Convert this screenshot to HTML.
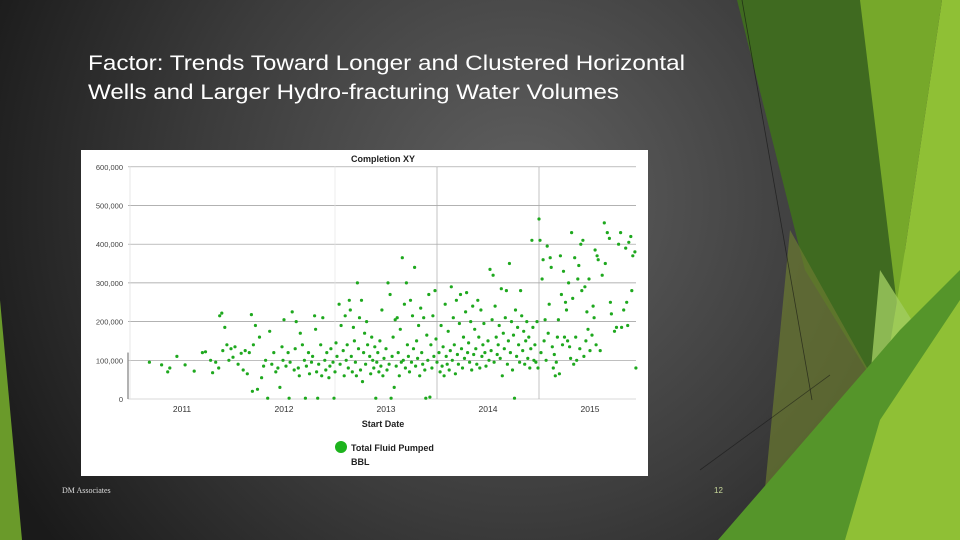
<!DOCTYPE html>
<html><head><meta charset="utf-8"><style>
html,body{margin:0;padding:0;width:960px;height:540px;overflow:hidden;background:#2a2a2a}
svg{display:block}
</style></head><body>
<svg id="slide" width="960" height="540" viewBox="0 0 960 540" xmlns="http://www.w3.org/2000/svg">
<defs>
<radialGradient id="bg" cx="520" cy="200" r="580" gradientUnits="userSpaceOnUse">
<stop offset="0" stop-color="#606060"/><stop offset="0.55" stop-color="#3c3c3c"/><stop offset="1" stop-color="#1a1a1a"/></radialGradient>
</defs>
<rect width="960" height="540" fill="url(#bg)"/>
<g>
<polygon points="737,0 868,0 902,250 885,400 805,270" fill="#3f6a20"/>
<polygon points="790,230 885,400 870,540 760,540" fill="#6b7a30" opacity="0.7"/>
<polygon points="860,0 942,0 905,250 900,330" fill="#76a82a"/>
<polygon points="942,0 960,0 960,540 830,540 878,420 905,250" fill="#8fc035"/>
<polygon points="880,270 918,330 880,420 870,380" fill="#a0cc60" opacity="0.8"/>
<polygon points="718,540 900,330 960,270 960,300 880,420 845,540" fill="#55952a"/>
<line x1="742" y1="0" x2="812" y2="400" stroke="#111" stroke-width="0.8" opacity="0.6"/>
<line x1="700" y1="470" x2="830" y2="375" stroke="#111" stroke-width="0.8" opacity="0.5"/>
</g>
<polygon points="0,300 22,540 0,540" fill="#6a9a2a"/>
<text x="88" y="70" font-family="Liberation Sans, sans-serif" font-size="21" textLength="597" lengthAdjust="spacingAndGlyphs" fill="#fff">Factor: Trends Toward Longer and Clustered Horizontal</text>
<text x="88" y="99" font-family="Liberation Sans, sans-serif" font-size="21" textLength="531" lengthAdjust="spacingAndGlyphs" fill="#fff">Wells and Larger Hydro-fracturing Water Volumes</text>
<text x="62" y="493" font-family="Liberation Serif, serif" font-size="8" fill="#ddd">DM Associates</text>
<text x="714" y="493" font-family="Liberation Sans, sans-serif" font-size="8" fill="#c8d89a">12</text>
<rect x="81" y="150" width="567" height="326" fill="#fff"/>
<text x="383" y="162" text-anchor="middle" font-family="Liberation Sans, sans-serif" font-size="9" font-weight="bold" fill="#222">Completion XY</text>
<g id="grid"></g>
<g id="ylabels"></g>
<g id="xlabels"></g>
<g id="dots"></g>
<text x="383" y="427" text-anchor="middle" font-family="Liberation Sans, sans-serif" font-size="9" font-weight="bold" fill="#222">Start Date</text>
<circle cx="341" cy="447" r="6" fill="#1db31d"/>
<text x="351" y="451" font-family="Liberation Sans, sans-serif" font-size="9" font-weight="bold" fill="#222">Total Fluid Pumped</text>
<text x="351" y="465" font-family="Liberation Sans, sans-serif" font-size="9" font-weight="bold" fill="#222">BBL</text>
</svg>
<script>
const yTicks = [0,100,200,300,400,500,600];
const yTickLabels = ["0","100,000","200,000","300,000","400,000","500,000","600,000"];
const xYears = [2011,2012,2013,2014,2015];
const xGridYears = [2012.5,2013.5,2014.5];
const wellPoints = [
[2010.68,95],[2010.8,88],[2010.86,70],[2010.88,80],[2010.95,110],[2011.03,88],[2011.12,72],[2011.2,120],[2011.23,122],[2011.28,100],[2011.3,68],[2011.33,95],[2011.36,80],[2011.37,215],[2011.39,222],[2011.4,125],[2011.42,185],[2011.44,140],[2011.46,100],[2011.48,130],
[2011.5,108],[2011.52,135],[2011.55,90],[2011.58,118],[2011.6,75],[2011.62,125],[2011.64,65],[2011.66,120],[2011.68,218],[2011.69,20],[2011.7,140],[2011.72,190],[2011.74,25],[2011.76,160],[2011.78,55],[2011.8,85],[2011.82,100],[2011.84,2],[2011.86,175],[2011.88,90],[2011.9,120],[2011.92,70],[2011.94,80],[2011.96,30],[2011.98,135],[2011.99,100],
[2012.0,205],[2012.02,85],[2012.04,120],[2012.05,2],[2012.06,95],[2012.08,225],[2012.1,75],[2012.11,130],[2012.12,200],[2012.14,80],[2012.15,60],[2012.16,170],[2012.18,140],[2012.2,100],[2012.21,2],[2012.22,85],[2012.24,120],[2012.25,65],[2012.27,95],[2012.28,110],[2012.3,215],[2012.31,180],[2012.32,70],[2012.33,2],[2012.34,90],[2012.36,140],[2012.37,60],[2012.38,210],[2012.4,100],[2012.41,75],[2012.42,120],[2012.44,55],[2012.45,85],[2012.46,130],[2012.48,95],[2012.49,2],[2012.5,70],[2012.51,145],[2012.52,110],[2012.54,245],[2012.55,90],[2012.56,190],[2012.58,125],[2012.59,60],[2012.6,215],[2012.61,100],[2012.62,140],[2012.63,80],[2012.64,255],[2012.65,230],[2012.66,110],[2012.67,70],[2012.68,185],[2012.69,150],[2012.7,95],[2012.71,60],[2012.72,300],[2012.73,130],[2012.74,210],[2012.75,75],[2012.76,255],[2012.77,45],[2012.78,120],[2012.79,170],[2012.8,90],[2012.81,200],[2012.82,140],[2012.84,110],[2012.85,65],[2012.86,160],[2012.87,100],[2012.88,80],[2012.89,135],[2012.9,2],[2012.91,95],[2012.92,120],[2012.93,70],[2012.94,150],[2012.95,85],[2012.96,230],[2012.97,60],[2012.98,105],
[2013.0,130],[2013.01,75],[2013.02,300],[2013.03,90],[2013.04,270],[2013.05,2],[2013.06,110],[2013.07,160],[2013.08,30],[2013.09,205],[2013.1,85],[2013.11,210],[2013.12,120],[2013.13,60],[2013.14,180],[2013.15,95],[2013.16,365],[2013.17,100],[2013.18,245],[2013.19,80],[2013.2,300],[2013.21,140],[2013.22,110],[2013.23,70],[2013.24,255],[2013.25,95],[2013.26,215],[2013.27,130],[2013.28,340],[2013.29,85],[2013.3,150],[2013.31,105],[2013.32,190],[2013.33,60],[2013.34,235],[2013.35,120],[2013.36,90],[2013.37,210],[2013.38,75],[2013.39,2],[2013.4,165],[2013.41,100],[2013.42,270],[2013.43,5],[2013.44,140],[2013.45,80],[2013.46,215],[2013.47,110],[2013.48,280],[2013.49,155],[2013.5,95],[2013.52,120],[2013.53,70],[2013.54,190],[2013.55,85],[2013.56,135],[2013.57,60],[2013.58,245],[2013.59,110],[2013.6,90],[2013.61,175],[2013.62,75],[2013.63,125],[2013.64,290],[2013.65,100],[2013.66,210],[2013.67,140],[2013.68,65],[2013.69,255],[2013.7,115],[2013.71,90],[2013.72,195],[2013.73,270],[2013.74,130],[2013.75,80],[2013.76,160],[2013.77,105],[2013.78,225],[2013.79,275],[2013.8,120],[2013.81,145],[2013.82,95],[2013.83,200],[2013.84,75],[2013.85,240],[2013.86,115],[2013.87,180],[2013.88,130],[2013.89,90],[2013.9,255],[2013.91,160],[2013.92,80],[2013.93,230],[2013.94,110],[2013.95,140],[2013.96,195],[2013.97,120],[2013.98,85],
[2014.0,150],[2014.01,100],[2014.02,335],[2014.03,125],[2014.04,205],[2014.05,320],[2014.06,95],[2014.07,240],[2014.08,160],[2014.09,115],[2014.1,140],[2014.11,190],[2014.12,105],[2014.13,285],[2014.14,60],[2014.15,170],[2014.16,130],[2014.17,210],[2014.18,280],[2014.19,90],[2014.2,150],[2014.21,350],[2014.22,120],[2014.23,200],[2014.24,75],[2014.25,165],[2014.26,2],[2014.27,230],[2014.28,110],[2014.29,185],[2014.3,140],[2014.31,95],[2014.32,280],[2014.33,215],[2014.34,125],[2014.35,175],[2014.36,90],[2014.37,150],[2014.38,200],[2014.39,105],[2014.4,160],[2014.41,80],[2014.42,130],[2014.43,410],[2014.44,185],[2014.45,100],[2014.46,140],[2014.47,95],[2014.48,200],[2014.49,80],[2014.5,465],[2014.51,410],[2014.52,120],[2014.53,310],[2014.54,360],[2014.55,150],[2014.56,205],[2014.57,100],[2014.58,395],[2014.59,170],[2014.6,245],[2014.61,365],[2014.62,340],[2014.63,135],[2014.64,80],[2014.65,115],[2014.66,60],[2014.67,95],[2014.68,160],[2014.69,205],[2014.7,65],[2014.71,370],[2014.72,270],[2014.73,140],[2014.74,330],[2014.75,160],[2014.76,250],[2014.77,230],[2014.78,150],[2014.79,300],[2014.8,135],[2014.81,105],[2014.82,430],[2014.83,260],[2014.84,90],[2014.85,365],[2014.86,160],[2014.87,100],[2014.88,310],[2014.89,345],[2014.9,130],[2014.91,400],[2014.92,280],[2014.93,410],[2014.94,110],[2014.95,290],[2014.96,150],[2014.97,225],[2014.98,180],[2014.99,310],
[2015.0,125],[2015.02,165],[2015.03,240],[2015.04,210],[2015.05,385],[2015.06,140],[2015.07,370],[2015.08,360],[2015.1,125],[2015.12,320],[2015.14,455],[2015.15,350],[2015.17,430],[2015.19,415],[2015.2,250],[2015.21,220],[2015.24,175],[2015.26,185],[2015.28,400],[2015.3,430],[2015.31,185],[2015.33,230],[2015.35,390],[2015.36,250],[2015.37,190],[2015.38,405],[2015.4,420],[2015.41,280],[2015.42,370],[2015.44,380],[2015.45,80]
];
const NS = "http://www.w3.org/2000/svg";
const PL = 128, PR = 636;
function xScale(d){ return 182 + (d - 2011) * 102; }
function yScale(v){ return 399 - v * 0.387; }
const grid = document.getElementById('grid');
const yl = document.getElementById('ylabels');
const xl = document.getElementById('xlabels');
const dots = document.getElementById('dots');
yTicks.forEach((t,i)=>{
  const ln = document.createElementNS(NS,'line');
  ln.setAttribute('x1',PL); ln.setAttribute('x2',PR);
  ln.setAttribute('y1',yScale(t)); ln.setAttribute('y2',yScale(t));
  ln.setAttribute('stroke', t===0 ? '#ccc' : '#999'); ln.setAttribute('stroke-width','0.7');
  
  
  grid.appendChild(ln);
  const tx = document.createElementNS(NS,'text');
  tx.setAttribute('x',123); tx.setAttribute('y',yScale(t)+3);
  tx.setAttribute('text-anchor','end'); tx.setAttribute('font-family','Liberation Sans, sans-serif');
  tx.setAttribute('font-size','7.5'); tx.setAttribute('fill','#444');
  tx.textContent = yTickLabels[i];
  
  
  yl.appendChild(tx);
});
xGridYears.forEach(g=>{
  const ln = document.createElementNS(NS,'line');
  ln.setAttribute('x1',xScale(g)); ln.setAttribute('x2',xScale(g));
  ln.setAttribute('y1',yScale(600)); ln.setAttribute('y2',yScale(0));
  ln.setAttribute('stroke', g===2012.5 ? '#e4e4e4' : '#aaa'); ln.setAttribute('stroke-width','0.7');
  
  
  grid.appendChild(ln);
});
const ax = document.createElementNS(NS,'line');
ax.setAttribute('x1',PL); ax.setAttribute('x2',PL); ax.setAttribute('y1',yScale(120)); ax.setAttribute('y2',yScale(0));
ax.setAttribute('stroke','#999'); ax.setAttribute('stroke-width','1.5');


grid.appendChild(ax);
const ax2 = document.createElementNS(NS,'line');
ax2.setAttribute('x1',PL+2); ax2.setAttribute('x2',PL+2); ax2.setAttribute('y1',yScale(600)); ax2.setAttribute('y2',yScale(0));
ax2.setAttribute('stroke','#ddd'); ax2.setAttribute('stroke-width','0.7');


grid.appendChild(ax2);
xYears.forEach(yr=>{
  const tx = document.createElementNS(NS,'text');
  tx.setAttribute('x',xScale(yr)); tx.setAttribute('y',412);
  tx.setAttribute('text-anchor','middle'); tx.setAttribute('font-family','Liberation Sans, sans-serif');
  tx.setAttribute('font-size','8.5'); tx.setAttribute('fill','#333');
  tx.textContent = yr;
  
  
  xl.appendChild(tx);
});
wellPoints.forEach(p=>{
  const c = document.createElementNS(NS,'circle');
  c.setAttribute('cx',xScale(p[0]).toFixed(1));
  c.setAttribute('cy',yScale(p[1]).toFixed(1));
  c.setAttribute('r','1.6'); c.setAttribute('fill','#1ea81e');
  
  
  dots.appendChild(c);
});
</script>
</body></html>
